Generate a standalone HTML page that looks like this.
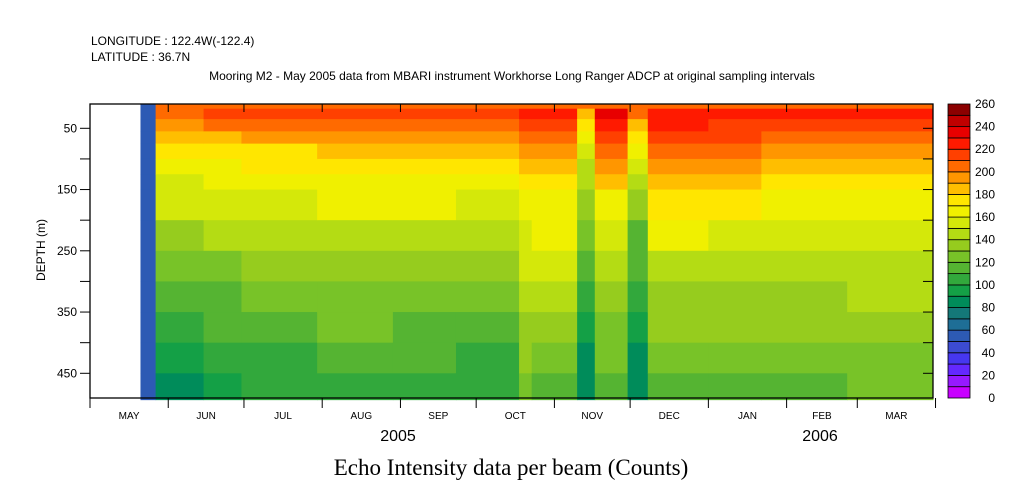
<!DOCTYPE html>
<html><head><meta charset="utf-8"><style>
body{margin:0;background:#fff;width:1009px;height:504px;overflow:hidden}
svg{display:block;font-family:"Liberation Sans",sans-serif}
</style></head><body>
<svg id="c" width="1009" height="504">
<text x="91" y="45" font-size="12">LONGITUDE : 122.4W(-122.4)</text>
<text x="91" y="61" font-size="12">LATITUDE : 36.7N</text>
<text x="512" y="80" font-size="12" text-anchor="middle">Mooring M2 - May 2005 data from MBARI instrument Workhorse Long Ranger ADCP at original sampling intervals</text>
<text x="511" y="475" font-size="23" text-anchor="middle" font-family="Liberation Serif,serif">Echo Intensity data per beam (Counts)</text>
<text x="398" y="441" font-size="16" text-anchor="middle">2005</text>
<text x="820" y="441" font-size="16" text-anchor="middle">2006</text>
<text transform="translate(45,250) rotate(-90)" font-size="12" text-anchor="middle">DEPTH (m)</text>
<g id="cells"></g>
<g id="axes"></g>
<g id="cbar"></g>
</svg>
<script>
const depthEdges=[10,18,35,55,75,100,125,150,200,250,300,350,400,450,493];
const colStart=[20,26,45,60,90,120,145,170,175,193,200,213,221,245,266,300];
const colEnd=[26,45,60,90,120,145,170,175,193,200,213,221,245,266,300,334];
const colValues=[
[55,55,55,55,55,55,55,55,55,55,55,55,55,55],
[200,205,195,180,170,160,158,150,135,120,110,105,95,88],
[200,210,200,185,170,165,160,155,140,125,115,110,100,92],
[200,212,205,190,178,170,165,158,145,130,120,115,108,100],
[200,215,205,190,180,172,168,160,148,135,125,120,112,105],
[200,212,205,192,180,172,165,160,145,132,122,118,110,102],
[200,210,205,195,182,172,165,158,145,130,120,112,105,100],
[200,220,210,200,190,180,170,165,158,150,140,135,130,125],
[205,225,218,205,195,185,178,168,160,150,140,132,122,112],
[200,185,175,165,155,148,140,130,120,112,105,95,88,82],
[205,230,222,212,200,190,180,168,155,145,135,128,120,112],
[200,200,185,170,160,150,140,130,118,110,100,92,85,80],
[205,228,220,210,200,195,185,172,160,148,138,130,122,115],
[205,225,218,210,200,192,182,170,158,148,138,130,122,115],
[205,222,215,205,192,182,175,168,155,145,138,130,125,118],
[205,225,215,205,195,185,175,168,158,148,140,132,125,120]];
const palette=["#c800ff","#9619ff","#6428ff","#4637f0","#3c4bd2","#2d5ab4","#1e6e96","#147878","#008c5a","#14a046","#32a83c","#55b432","#78c328","#96cc1e","#b4dc14","#d4e80a","#f0f000","#ffe600","#ffbe00","#ff9600","#ff6a00","#ff4000","#ff1a00","#e80000","#c00000","#8b0000"];
const cbarTicks=[0,20,40,60,80,100,120,140,160,180,200,220,240,260];
const monthLabels=["MAY","JUN","JUL","AUG","SEP","OCT","NOV","DEC","JAN","FEB","MAR"];
const monthDays=[31,30,31,31,30,31,30,31,31,28,31];
const depthLabels=[50,150,250,350,450];

const NS="http://www.w3.org/2000/svg";
const X0=90,X1=933,Y0=104,Y1=398;
const xs=d=>X0+d*(X1-X0)/334;
const ys=z=>128.3+(z-50)*0.6125;
const color=v=>palette[Math.max(0,Math.min(25,Math.floor(v/10)))];
function mk(tag,attrs,parent){const e=document.createElementNS(NS,tag);for(const k in attrs)e.setAttribute(k,attrs[k]);parent.appendChild(e);return e;}
const cells=document.getElementById('cells');
colValues.forEach((vals,i)=>{vals.forEach((v,j)=>{
 const r=mk('rect',{x:xs(colStart[i]),y:Math.max(Y0,ys(depthEdges[j])),width:xs(colEnd[i])-xs(colStart[i])+0.5,height:ys(depthEdges[j+1])-Math.max(Y0,ys(depthEdges[j]))+0.5,fill:color(v)},cells);
 
 
});});
const ax=document.getElementById('axes');
const fr=mk('rect',{x:X0,y:Y0,width:X1-X0,height:Y1-Y0,fill:'none',stroke:'#000','stroke-width':1.3},ax);


for(let z=50;z<=450;z+=50){const y=ys(z);
 mk('line',{x1:X0-10,x2:X0,y1:y,y2:y,stroke:'#000'},ax);
 mk('line',{x1:X1-10,x2:X1,y1:y,y2:y,stroke:'#000'},ax);}
depthLabels.forEach(z=>{const t=mk('text',{x:X0-13,y:ys(z)+4,'font-size':12,'text-anchor':'end'},ax);t.textContent=z;
 
 });
let d=0;
monthLabels.forEach((m,i)=>{const a=d,b=d+monthDays[i];
 mk('line',{x1:xs(a),x2:xs(a),y1:Y1,y2:Y1+10,stroke:'#000'},ax);
 mk('line',{x1:xs(a),x2:xs(a),y1:Y0,y2:Y0+8,stroke:'#000'},ax);
 const t=mk('text',{x:(xs(a)+xs(b))/2,y:419,'font-size':10,'text-anchor':'middle'},ax);t.textContent=m;
 
 
 d=b;});
mk('line',{x1:xs(d),x2:xs(d),y1:Y1,y2:Y1+10,stroke:'#000'},ax);
const cb=document.getElementById('cbar');
const CX=948,CW=22,bh=(Y1-Y0)/26;
palette.forEach((c,i)=>{const r=mk('rect',{x:CX,y:Y1-(i+1)*bh,width:CW,height:bh,fill:c,stroke:'#000','stroke-width':0.8},cb);
 
 });
cbarTicks.forEach(v=>{const t=mk('text',{x:995,y:Y1-v/10*bh+4,'font-size':12,'text-anchor':'end'},cb);t.textContent=v;
 
 });
</script>
</body></html>
